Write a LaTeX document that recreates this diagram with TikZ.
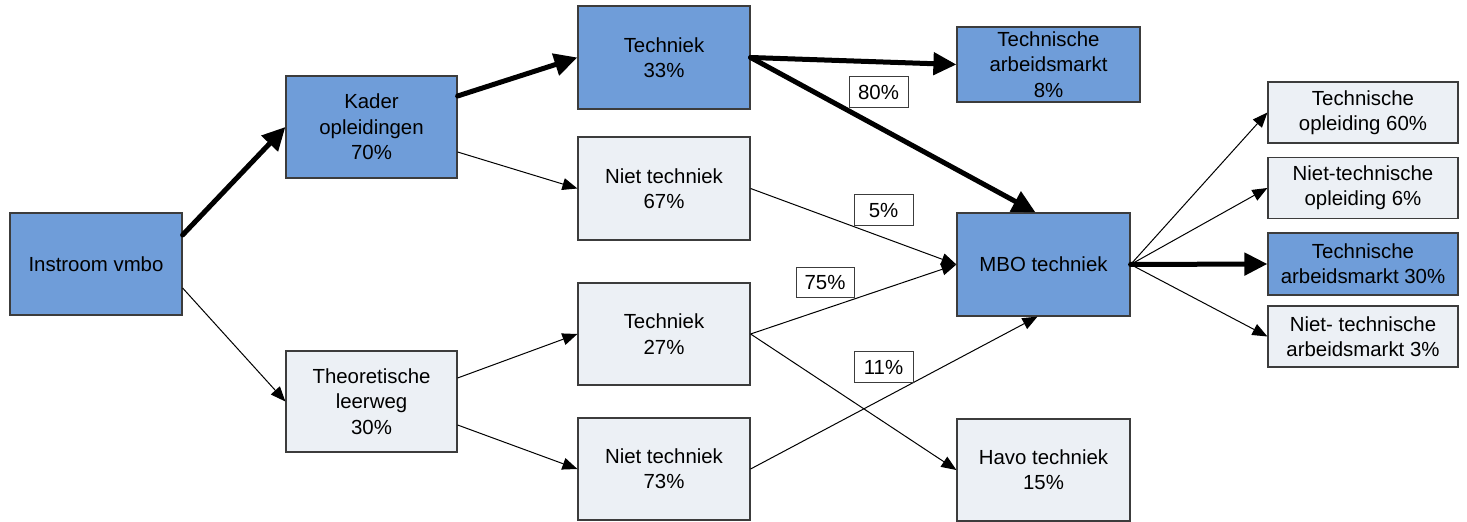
\documentclass[tikz,border=0pt]{standalone}
\usepackage{fontspec}
\setmainfont{Liberation Sans}
\usetikzlibrary{arrows.meta}
\definecolor{boxblue}{RGB}{111,157,217}
\definecolor{boxlight}{RGB}{236,240,245}
\definecolor{boxline}{RGB}{60,60,60}
\begin{document}
\begin{tikzpicture}[x=0.5pt,y=-0.5pt,
  base/.style={draw=boxline, line width=0.6pt, align=center, inner sep=0pt,
    font=\fontsize{10.2pt}{12.7pt}\selectfont},
  bluebox/.style={base, fill=boxblue},
  lightbox/.style={base, fill=boxlight},
  pct/.style={draw=boxline, fill=white, line width=0.5pt, inner sep=0pt,
    font=\fontsize{10.2pt}{12.7pt}\selectfont, minimum width=29.5pt, minimum height=15.5pt},
  flow/.style={line width=0.5pt, -{Triangle[length=7.5pt,width=6pt]}},
  mainflow/.style={line width=2.5pt, line cap=round, -{Triangle[length=11.5pt,width=11pt]}}
]
\useasboundingbox (0,0) rectangle (1467,522);

% boxes
\node[bluebox, minimum width=86pt, minimum height=51pt] (iv) at (96,264) {Instroom vmbo};
\node[bluebox, minimum width=85.5pt, minimum height=51pt] (ka) at (371.5,127) {Kader\\opleidingen\\70\%};
\node[lightbox, minimum width=85.5pt, minimum height=50.5pt] (tl) at (371.5,401.5) {Theoretische\\leerweg\\30\%};
\node[bluebox, minimum width=86pt, minimum height=51.5pt] (t33) at (664,57.5) {Techniek\\33\%};
\node[lightbox, minimum width=86pt, minimum height=51.5pt] (n67) at (664,188.5) {Niet techniek\\67\%};
\node[lightbox, minimum width=86pt, minimum height=51pt] (t27) at (664,334) {Techniek\\27\%};
\node[lightbox, minimum width=86pt, minimum height=51pt] (n73) at (664,469) {Niet techniek\\73\%};
\node[bluebox, minimum width=91.5pt, minimum height=37.5pt] (tam) at (1048.5,64.5) {Technische\\arbeidsmarkt\\8\%};
\node[bluebox, minimum width=86.5pt, minimum height=51.5pt] (mbo) at (1043.5,264.5) {MBO techniek};
\node[lightbox, minimum width=86.5pt, minimum height=51pt] (havo) at (1043.5,470) {Havo techniek\\15\%};
\node[lightbox, minimum width=95pt, minimum height=30.5pt] (r1) at (1363,112.5) {Technische\\opleiding 60\%};
\node[lightbox, minimum width=95pt, minimum height=30.5pt] (r2) at (1363,188) {Niet-technische\\opleiding 6\%};
\node[bluebox, minimum width=95pt, minimum height=31pt] (r3) at (1363,264) {Technische\\arbeidsmarkt 30\%};
\node[lightbox, minimum width=95pt, minimum height=30.5pt] (r4) at (1363,336.5) {Niet- technische\\arbeidsmarkt 3\%};

% connectors
\draw[mainflow] ([yshift=14.5pt]iv.east) -- (ka.west);
\draw[flow] ([yshift=-12pt]iv.east) -- (tl.west);
\draw[mainflow] ([yshift=15.5pt]ka.east) -- (t33.west);
\draw[flow] ([yshift=-12.5pt]ka.east) -- (n67.west);
\draw[flow] ([yshift=11.75pt]tl.east) -- (t27.west);
\draw[flow] ([yshift=-11.75pt]tl.east) -- (n73.west);
\draw[mainflow] (t33.east) -- (tam.west);
\draw[mainflow] (t33.east) -- ([xshift=-4pt]mbo.north);
\draw[flow] (n67.east) -- (mbo.west);
\draw[flow] (t27.east) -- (mbo.west);
\draw[flow] (t27.east) -- (havo.west);
\draw[flow] (n73.east) -- ([xshift=-3pt]mbo.south);
\draw[flow] (mbo.east) -- (r1.west);
\draw[flow] (mbo.east) -- (r2.west);
\draw[mainflow] (mbo.east) -- (r3.west);
\draw[flow] (mbo.east) -- (r4.west);

% percentage labels
\node[pct] (p80) at (878.5,92.5) {80\%};
\node[pct] (p5) at (883.5,210.5) {5\%};
\node[pct, minimum width=29pt, minimum height=15pt] (p75) at (825,283) {75\%};
\node[pct] (p11) at (883.5,367.5) {11\%};
\end{tikzpicture}
\end{document}
